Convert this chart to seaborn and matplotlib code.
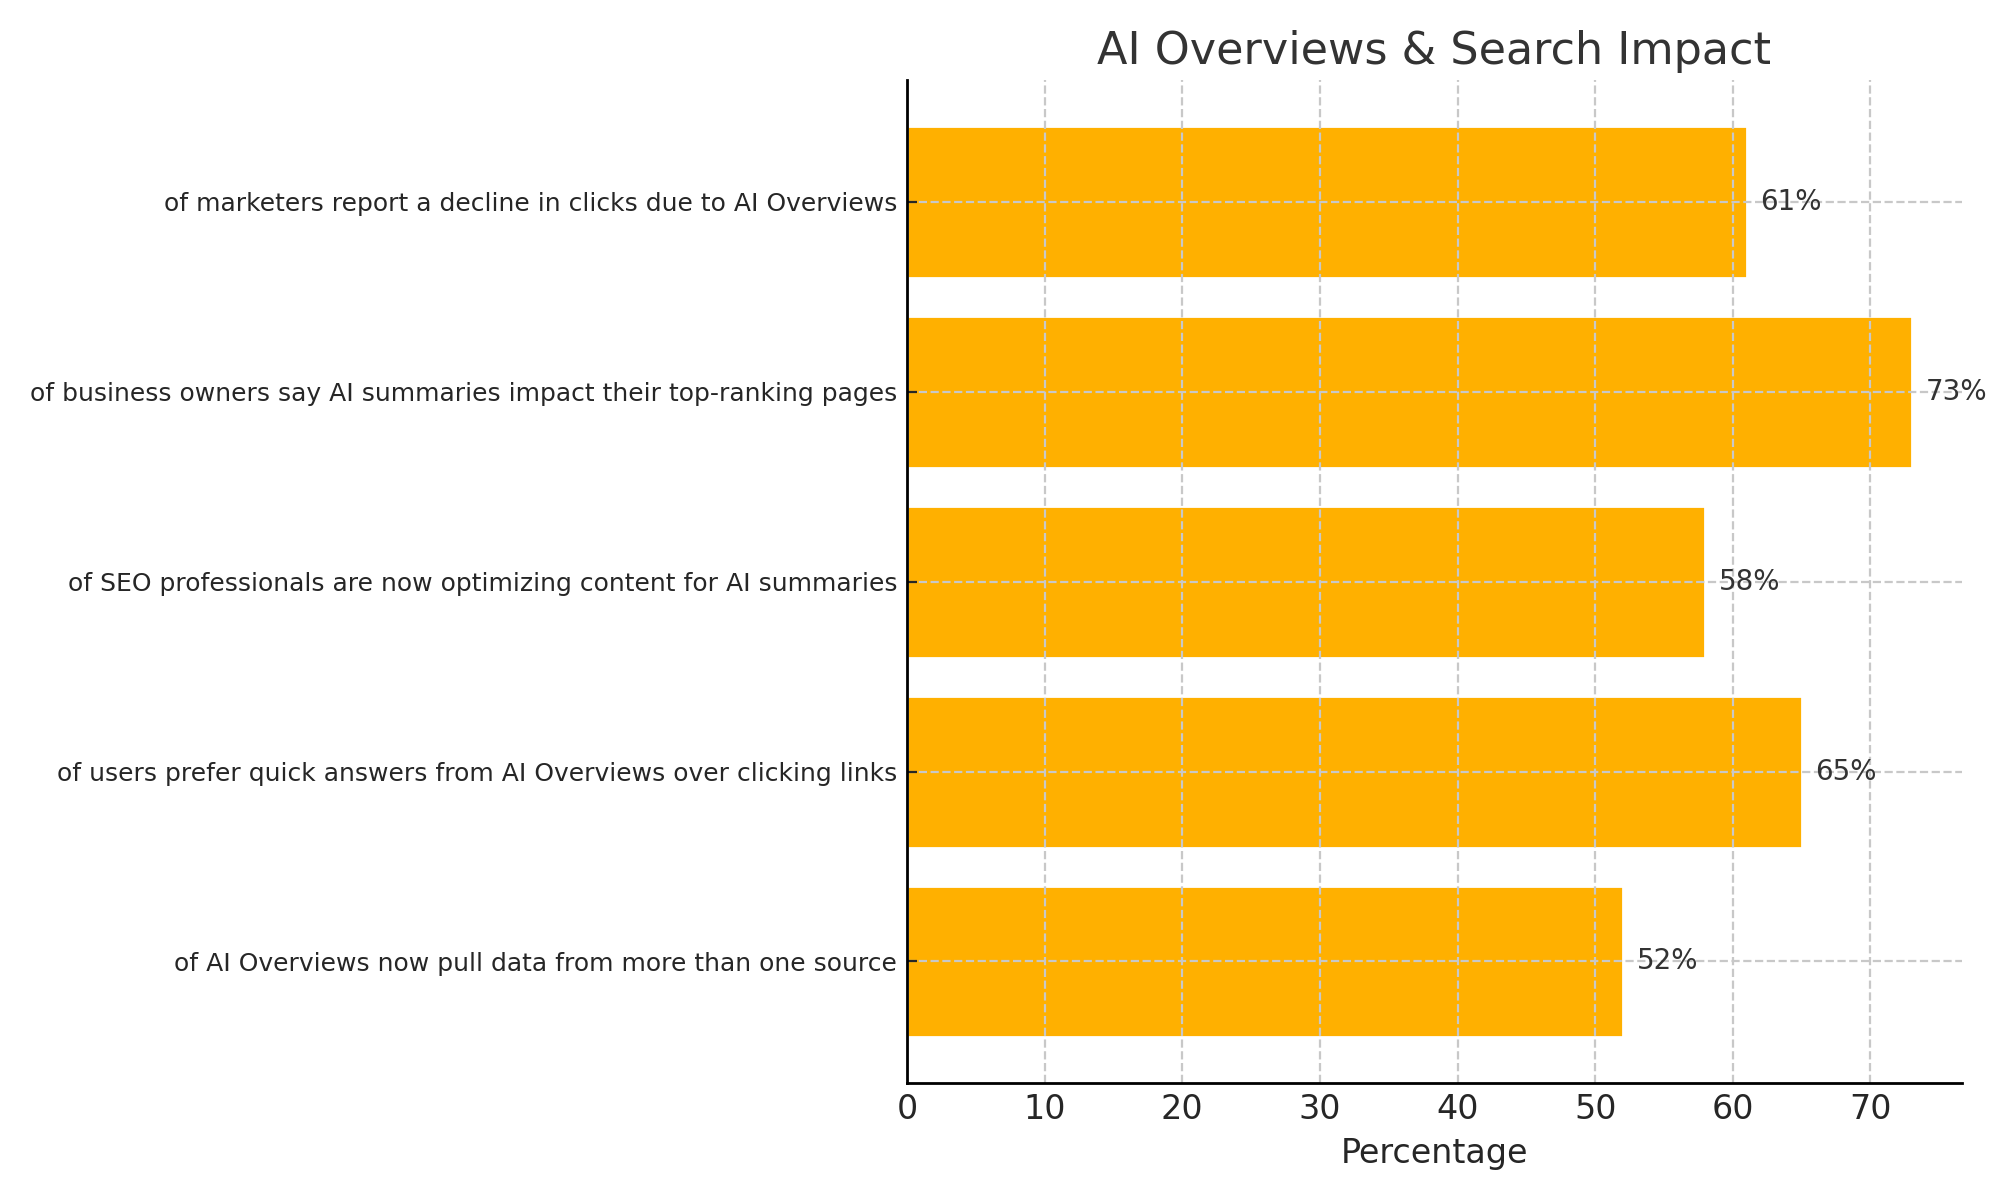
import seaborn as sns
import matplotlib.pyplot as plt
import pandas as pd

labels = [
    "of marketers report a decline in clicks due to AI Overviews",
    "of business owners say AI summaries impact their top-ranking pages",
    "of SEO professionals are now optimizing content for AI summaries",
    "of users prefer quick answers from AI Overviews over clicking links",
    "of AI Overviews now pull data from more than one source",
]
values = [61, 73, 58, 65, 52]

df = pd.DataFrame({"label": labels, "value": values})

sns.set_style("white")
plt.rcParams["font.family"] = ["DejaVu Sans"]

fig, ax = plt.subplots(figsize=(10, 6), dpi=200)
sns.barplot(data=df, x="value", y="label", color="#FFB000", saturation=1,
            width=0.8, ax=ax)

# percent labels next to bars
for i, v in enumerate(values):
    ax.text(v + 1, i, f"{v}%", va="center", ha="left", fontsize=10, color="#333333")

ax.set_xlim(0, max(values) * 1.05)
ax.set_ylim(len(values) - 1 + 0.64, -0.64)
ax.set_axisbelow(False)
ax.grid(True, axis="both", color="#c8c8c8", linestyle="--", linewidth=0.8)

ax.set_title("AI Overviews & Search Impact", fontsize=16, color="#333333")
ax.set_xlabel("Percentage", fontsize=12)
ax.set_ylabel("")
ax.tick_params(axis="x", labelsize=12, direction="in", length=3.5)
ax.tick_params(axis="y", labelsize=9, direction="in", length=3.5, left=True)
sns.despine(ax=ax)
for s in ["left", "bottom"]:
    ax.spines[s].set_color("black")
    ax.spines[s].set_linewidth(1.0)
    ax.spines[s].set_zorder(5)

fig.subplots_adjust(left=0.4535, right=0.981, top=0.933, bottom=0.0975)
fig.savefig("out.png")
